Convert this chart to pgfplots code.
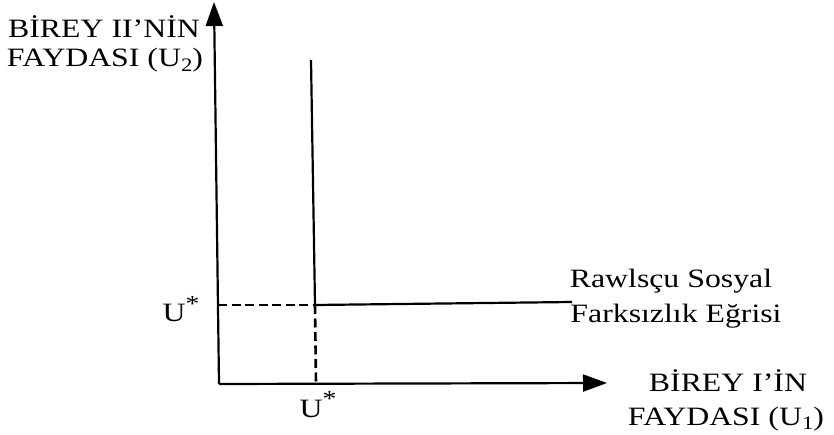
\documentclass[border=0pt]{standalone}
\usepackage{fontspec}
\setmainfont{Liberation Serif}
\usepackage{pgfplots}
\pgfplotsset{compat=1.18}
\usetikzlibrary{arrows.meta}
\newcommand\sub[1]{\raisebox{-0.18em}{\fontsize{19bp}{20bp}\selectfont #1}}
\newcommand\ustar{U\raisebox{0.4em}{\fontsize{23bp}{24bp}\selectfont *}}
\newcommand\lbl[1]{\scalebox{1.2}[1]{\fontsize{26.5bp}{30bp}\selectfont #1}}
\begin{document}
\begin{tikzpicture}
\begin{axis}[
  width=834bp, height=435bp, scale only axis,
  xmin=0, xmax=834, ymin=0, ymax=435,
  hide axis, clip=false,
]
% invisible frame for bounding box
\addplot[draw=none, forget plot] coordinates {(0,0) (834,435)};
% axes
\addplot[line width=2.2bp, -{Triangle[length=24bp, width=17bp]}] coordinates {(219,51) (214,433)};
\addplot[line width=2.2bp, -{Triangle[length=24bp, width=17bp]}] coordinates {(219,51) (607,52)};
% Rawlsian L-shaped curve
\addplot[line width=2.2bp] coordinates {(311,375) (315,130) (572,133)};
% dashed guides
\addplot[line width=2.6bp, dash pattern=on 9bp off 4.5bp] coordinates {(218,130) (315,130)};
\addplot[line width=2.6bp, dash pattern=on 9bp off 4.5bp] coordinates {(315,130) (316,51)};
% labels
\node[anchor=base, inner sep=0pt] at (axis cs:104,397) {\lbl{BİREY II’NİN}};
\node[anchor=base, inner sep=0pt] at (axis cs:105,368) {\lbl{FAYDASI (U\sub{2})}};
\node[anchor=base, inner sep=0pt] at (axis cs:181,113) {\lbl{\ustar}};
\node[anchor=base, inner sep=0pt] at (axis cs:318,18) {\lbl{\ustar}};
\node[anchor=base, inner sep=0pt] at (axis cs:671,147) {\lbl{Rawlsçu Sosyal}};
\node[anchor=base, inner sep=0pt] at (axis cs:676,112) {\lbl{Farksızlık Eğrisi}};
\node[anchor=base, inner sep=0pt] at (axis cs:728,43) {\lbl{BİREY I’İN}};
\node[anchor=base, inner sep=0pt] at (axis cs:726,10) {\lbl{FAYDASI (U\sub{1})}};
\end{axis}
\end{tikzpicture}
\end{document}
